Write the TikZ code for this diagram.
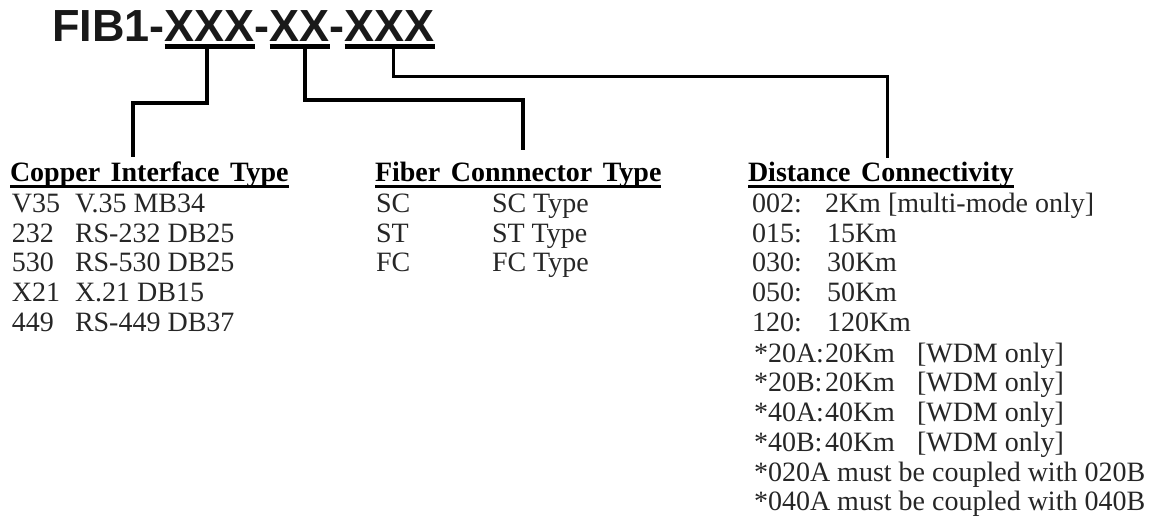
\documentclass[tikz,border=0pt]{standalone}
\usepackage{fontspec}
\setmainfont{Liberation Serif}
\newfontfamily\titlefont{Liberation Sans}
\newcommand\myhdrspace{\spaceskip=10.5pt\relax}
\begin{document}
\begin{tikzpicture}[x=1pt,y=-1pt,
  every node/.style={inner sep=0pt,outer sep=0pt},
  ttl/.style={anchor=base west,font=\titlefont\fontsize{45}{45}\selectfont\bfseries,text=black!90},
  hdr/.style={anchor=base west,font=\fontsize{28}{30}\selectfont\bfseries},
  row/.style={anchor=base west,font=\fontsize{28}{30}\selectfont,text=black!85},
  uline/.style={line width=3pt},
  xline/.style={line width=4.5pt},
  conn/.style={line join=miter}
]
\useasboundingbox (0,0) rectangle (1154,521);
% title
\node[ttl] (t0) at (52,42) {FIB1-};
\node[ttl] (xa) at (t0.base east) {XXX};
\node[ttl] (d1) at (xa.base east) {-};
\node[ttl] (xb) at (d1.base east) {XX};
\node[ttl] (d2) at (xb.base east) {-};
\node[ttl] (xc) at (d2.base east) {XXX};
\foreach \n in {xa,xb,xc}
  \draw[xline] ([yshift=-4.5pt]\n.base west) -- ([yshift=-4.5pt]\n.base east);
% headers
\node[hdr] (h1) at (10,182) {\myhdrspace Copper Interface Type};
\node[hdr] (h2) at (375,182) {\myhdrspace Fiber Connnector Type};
\node[hdr] (h3) at (748,182) {\myhdrspace Distance Connectivity};
\foreach \n in {h1,h2,h3}
  \draw[uline] ([yshift=-5pt]\n.base west) -- ([yshift=-5pt]\n.base east);
% connectors
\coordinate (s1) at (207,46);
\coordinate (e1) at (133,157);
\coordinate (s2) at (305,46);
\coordinate (e2) at (523,150);
\coordinate (s3) at (393,46);
\coordinate (e3) at (887,158);
\draw[conn,line width=4.5pt] (s1) -- ++(0,57) -| (e1);
\draw[conn,line width=4pt] (s2) -- ++(0,54) -| (e2);
\draw[conn,line width=3pt] (s3) -- ++(0,31) -| (e3);
% copper rows
\node[row] (ca1) at (12,213) {V35};    \node[row] (cb1) at (75,213) {V.35 MB34};
\node[row] (ca2) at (12,243) {232};    \node[row] (cb2) at (75,243) {RS-232 DB25};
\node[row] (ca3) at (12,272) {530};    \node[row] (cb3) at (75,272) {RS-530 DB25};
\node[row] (ca4) at (12,302) {X21};    \node[row] (cb4) at (75,302) {X.21 DB15};
\node[row] (ca5) at (12,332) {449};    \node[row] (cb5) at (75,332) {RS-449 DB37};
% fiber rows
\node[row] (fa1) at (376,213) {SC};    \node[row] (fb1) at (492,213) {SC Type};
\node[row] (fa2) at (376,243) {ST};    \node[row] (fb2) at (492,243) {ST Type};
\node[row] (fa3) at (376,272) {FC};    \node[row] (fb3) at (492,272) {FC Type};
% distance rows
\node[row] (da1) at (752,213) {002:};  \node[row] (db1) at (825,213) {2Km [multi-mode only]};
\node[row] (da2) at (752,243) {015:};  \node[row] (db2) at (827,243) {15Km};
\node[row] (da3) at (752,272) {030:};  \node[row] (db3) at (827,272) {30Km};
\node[row] (da4) at (752,302) {050:};  \node[row] (db4) at (827,302) {50Km};
\node[row] (da5) at (752,332) {120:};  \node[row] (db5) at (827,332) {120Km};
\node[row] (da6) at (754,362) {*20A:}; \node[row] (db6) at (825,362) {20Km}; \node[row] (dc6) at (917,362) {[WDM only]};
\node[row] (da7) at (754,391) {*20B:}; \node[row] (db7) at (825,391) {20Km}; \node[row] (dc7) at (917,391) {[WDM only]};
\node[row] (da8) at (754,421) {*40A:}; \node[row] (db8) at (825,421) {40Km}; \node[row] (dc8) at (917,421) {[WDM only]};
\node[row] (da9) at (754,451) {*40B:}; \node[row] (db9) at (825,451) {40Km}; \node[row] (dc9) at (917,451) {[WDM only]};
\node[row] (dn1) at (754,481) {*020A must be coupled with 020B};
\node[row] (dn2) at (754,510) {*040A must be coupled with 040B};
\end{tikzpicture}
\end{document}
